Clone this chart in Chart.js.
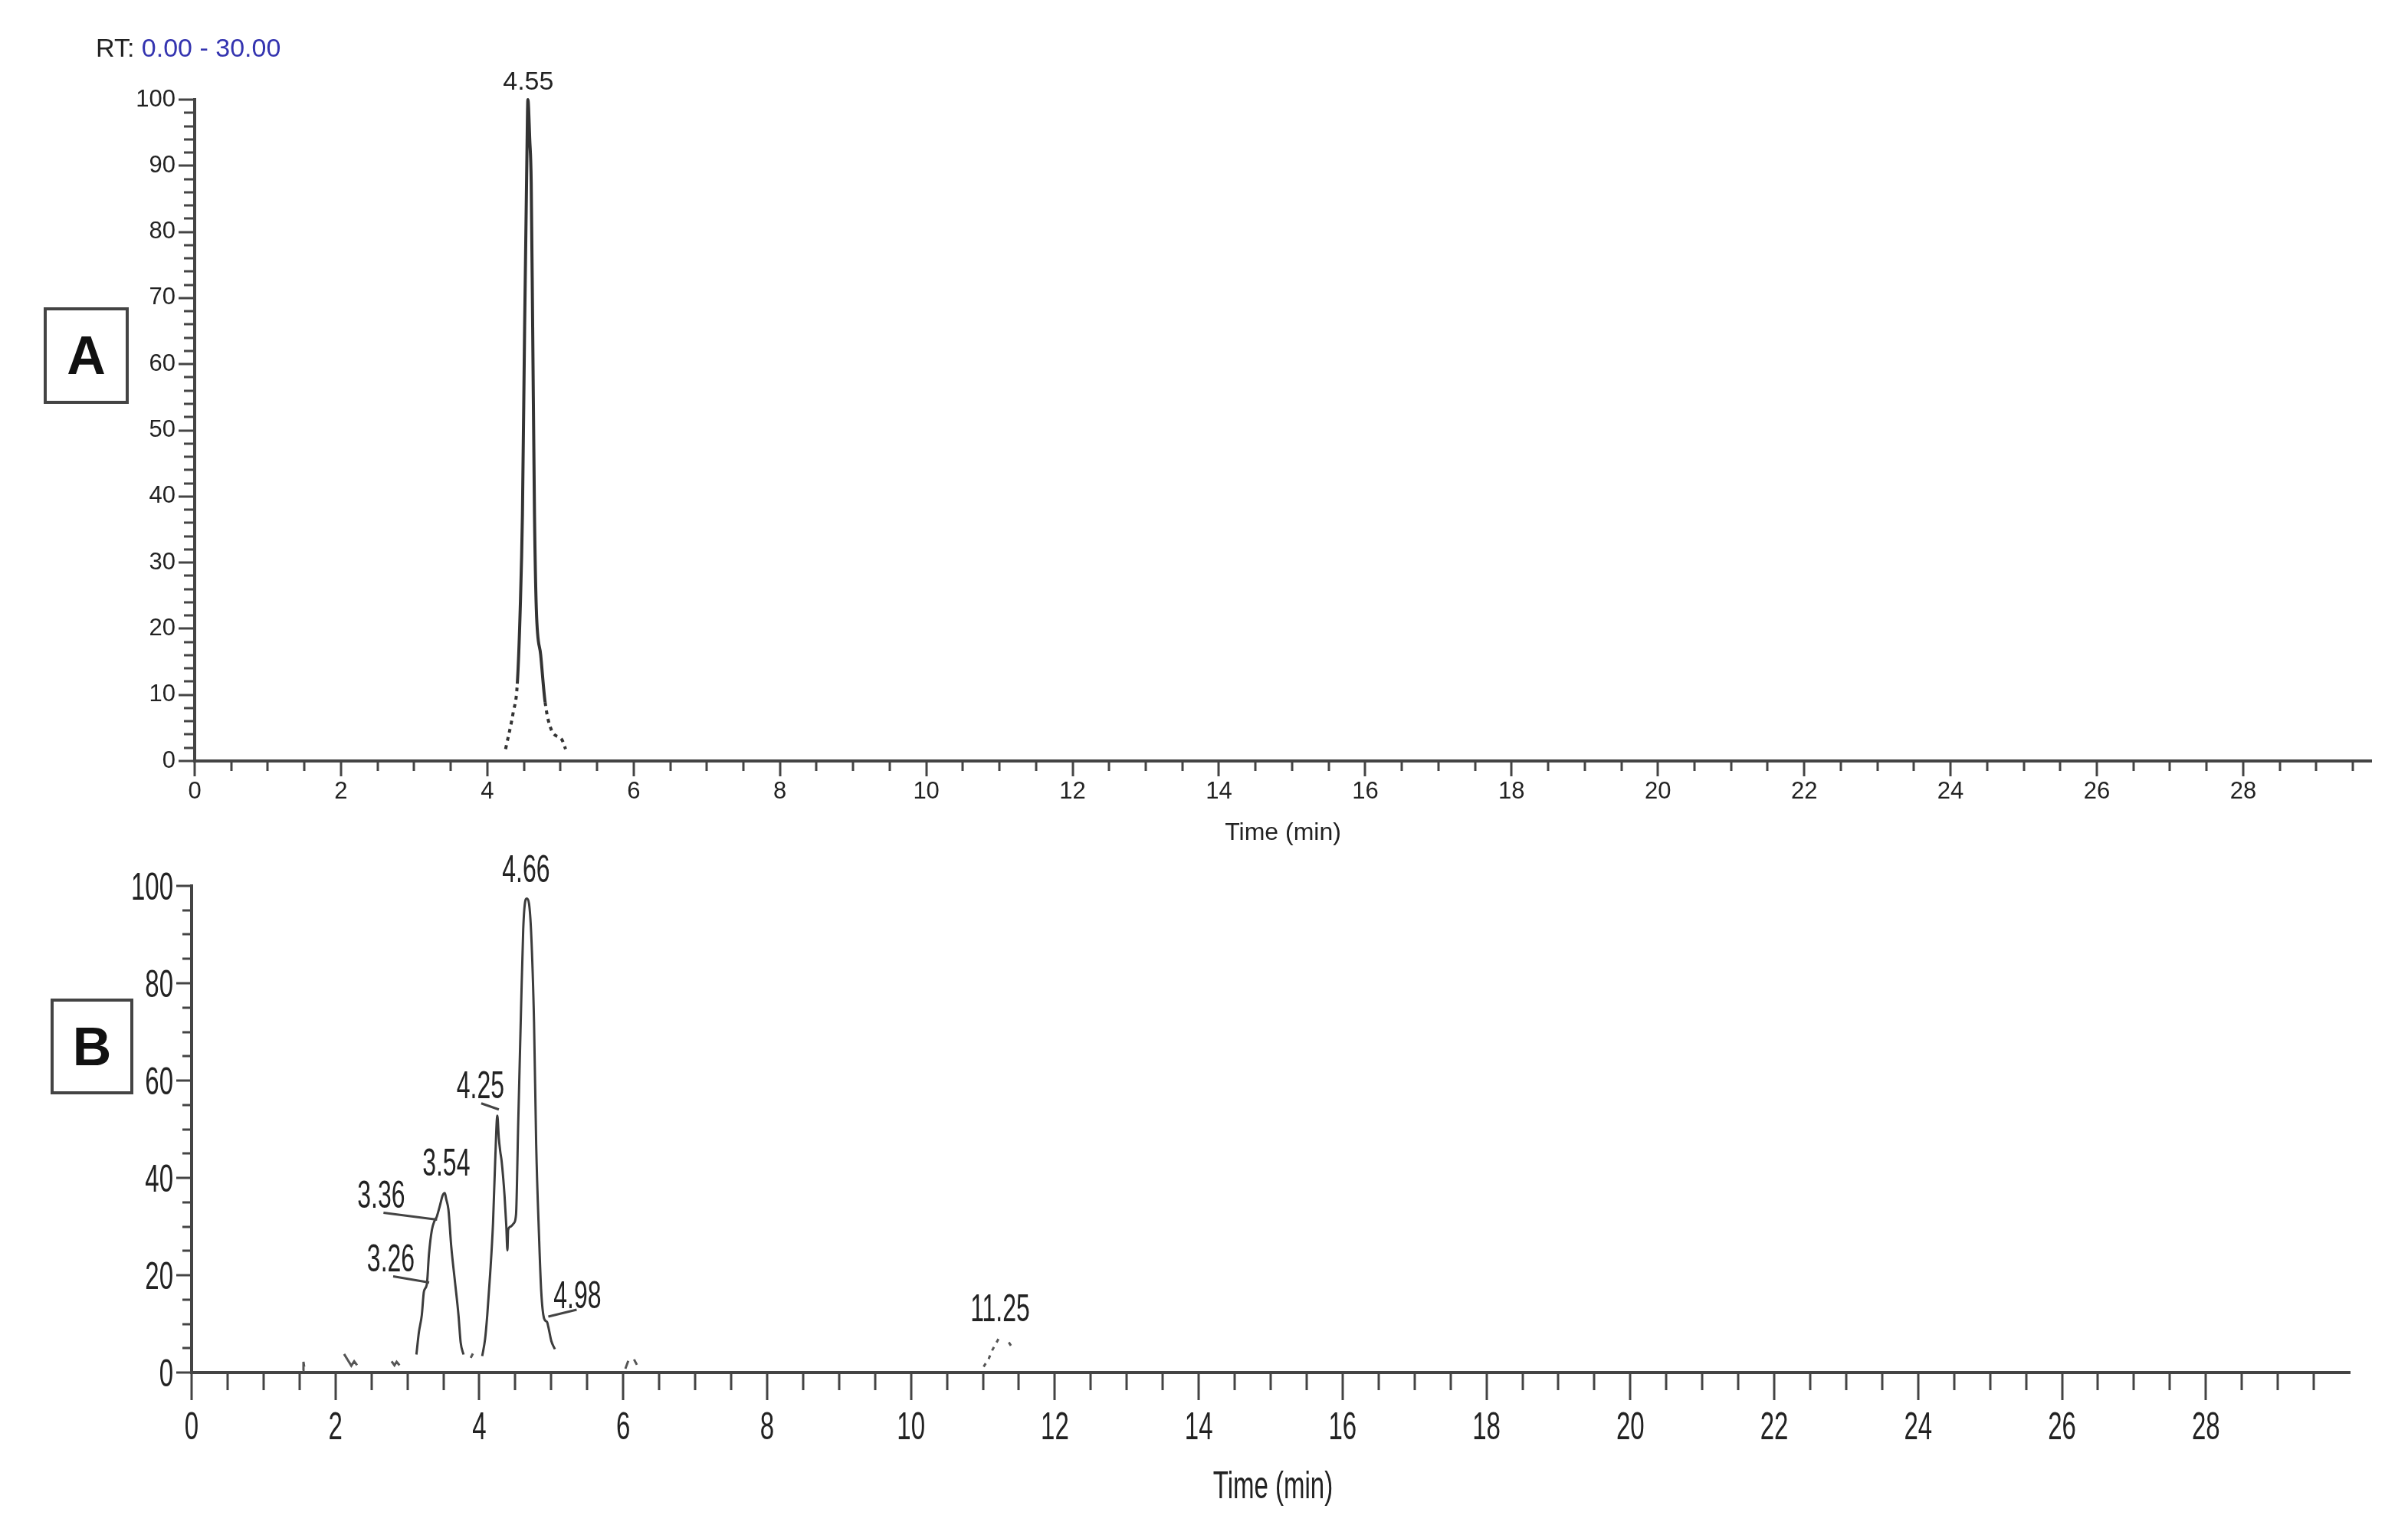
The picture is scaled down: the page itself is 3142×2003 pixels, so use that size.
<!DOCTYPE html>
<html>
<head>
<meta charset="utf-8">
<script src="https://cdn.jsdelivr.net/npm/chart.js@4.4.1/dist/chart.umd.min.js"></script>
<style>
  html,body{margin:0;padding:0;background:#fff;}
  body{width:3142px;height:2003px;position:relative;overflow:hidden;font-family:"Liberation Sans",Arial,sans-serif;}
  canvas{position:absolute;left:0;}
  #chartA{top:0;}
  #chartB{top:1100px;}
  .rt{position:absolute;left:125px;top:45px;font-size:34px;line-height:34px;color:#222;white-space:nowrap;}
  .rt span{color:#3434b0;}
  .panel{position:absolute;border:4px solid #444;box-sizing:border-box;display:flex;align-items:center;justify-content:center;font-weight:bold;font-size:70px;color:#111;background:#fff;}
</style>
</head>
<body>
<canvas id="chartA" width="3142" height="1120"></canvas>
<canvas id="chartB" width="3142" height="903"></canvas>
<div class="rt">RT: <span>0.00 - 30.00</span></div>
<div class="panel" style="left:57px;top:401px;width:111px;height:126px;">A</div>
<div class="panel" style="left:66px;top:1303px;width:108px;height:125px;">B</div>

<script>
// ---- trace A (relative abundance vs time, min)
const timeA = [4.25, 4.355, 4.41, 4.45, 4.48, 4.51, 4.54, 4.555, 4.58, 4.60, 4.62, 4.645, 4.67, 4.73, 4.79, 4.88, 5.02, 5.07];
const intA  = [1.8, 7.4, 11.7, 23, 37.2, 65.6, 90.4, 100, 94, 87.5, 65.6, 37.2, 23, 16, 8.9, 4.6, 3.2, 1.8];

// ---- trace B, first cluster (3.1 - 3.8 min)
const timeB1 = [3.125, 3.16, 3.20, 3.23, 3.27, 3.30, 3.34, 3.375, 3.41, 3.45, 3.49, 3.52, 3.54, 3.57, 3.61, 3.66, 3.71, 3.74, 3.78];
const intB1  = [3.7, 8.3, 11.8, 16.7, 18.1, 24.4, 29.3, 31.1, 32.1, 34.2, 36.4, 36.9, 35.6, 33.5, 25.8, 18.8, 11.8, 6.2, 3.7];

// ---- trace B, second cluster (4.0 - 5.1 min)
const timeB2 = [4.04, 4.08, 4.11, 4.15, 4.19, 4.22, 4.25, 4.27, 4.29, 4.31, 4.35, 4.375, 4.39, 4.40, 4.435, 4.48, 4.51,
                4.54, 4.58, 4.61, 4.64, 4.66, 4.69, 4.72, 4.76, 4.79, 4.83, 4.86, 4.90, 4.94, 4.96, 5.0, 5.05];
const intB2  = [3.4, 6.9, 11.8, 20.2, 30.7, 43.4, 52.8, 48.3, 45.5, 43.4, 36.4, 30, 25.1, 29.3, 30, 30.7, 32.5,
                51.1, 74.9, 91.1, 97, 97.4, 96.4, 90.4, 72.1, 46.9, 27.9, 16.7, 11.1, 10.4, 9.3, 6.5, 4.8];

// ---- baseline specks in B (null = gap)
const timeNoise = [1.545, 1.555, 1.565, 1.8, 2.12, 2.17, 2.22, 2.26, 2.30, 2.5, 2.78, 2.82, 2.85, 2.89, 3.0, 3.88, 3.91, 5.5, 6.03, 6.07, 6.11, 6.15, 6.19];
const intNoise  = [0.4, 2.2, 1.2, null, 3.8, 2.6, 1.4, 2.3, 1.5, null, 2.3, 1.5, 2.2, 1.5, null, 3.0, 3.9, null, 0.8, 2.4, null, 2.7, 1.6];

// ---- small bump at 11.25
const timeBump = [11.01, 11.08, 11.13, 11.22, 11.3, 11.36, 11.40];
const intBump  = [1.2, 2.8, 4.6, 7.0, null, 6.2, 5.3];

// ---- peak labels
const peakTimeA = [4.55];
const peakIntA  = [100];
const peakTimeB = [3.26, 3.36, 3.54, 4.25, 4.66, 4.98, 11.25];
const peakIntB  = [18.5, 31.4, 37.0, 52.8, 97.4, 11.5, 7.0];

const xy = (ts, vs) => ts.map((t, i) => ({ x: t, y: vs[i] }));

// condensed text: normal font squeezed horizontally
function squeezeText(ctx, txt, x, y, sx){
  ctx.save();
  ctx.translate(x, y);
  ctx.scale(sx, 1);
  ctx.fillText(txt, 0, 0);
  ctx.restore();
}

/* ---------- ticks, labels, peak labels ---------- */
const chromPlugin = {
  id: "chrom",
  afterDraw(chart, args, o){
    const { ctx } = chart;
    const xs = chart.scales.x, ys = chart.scales.y;
    ctx.save();
    ctx.strokeStyle = o.tickColor; ctx.lineWidth = o.tickWidth;
    ctx.beginPath();
    const nx = Math.round(o.xLast / o.xMinor);
    for(let k = 0; k <= nx; k++){
      const t = k * o.xMinor;
      const px = Math.round(xs.getPixelForValue(t));
      const major = Math.abs(t / o.xMajor - Math.round(t / o.xMajor)) < 1e-6;
      ctx.moveTo(px, ys.bottom); ctx.lineTo(px, ys.bottom + (major ? o.xMajorLen : o.xMinorLen));
    }
    const ny = Math.round(100 / o.yMinor);
    for(let k = 0; k <= ny; k++){
      const v = k * o.yMinor;
      const py = Math.round(ys.getPixelForValue(v));
      const major = Math.abs(v / o.yMajor - Math.round(v / o.yMajor)) < 1e-6;
      ctx.moveTo(xs.left, py); ctx.lineTo(xs.left - (major ? o.yMajorLen : o.yMinorLen), py);
    }
    ctx.stroke();

    // condensed axis labels (panel B), taken from the scales' own ticks
    const L = o.labels;
    if(L){
      ctx.fillStyle = L.color; ctx.font = L.font; ctx.textBaseline = "alphabetic";
      ctx.textAlign = "center";
      xs.ticks.forEach(tk => {
        if(tk.value > o.xLast) return;
        squeezeText(ctx, String(tk.value), xs.getPixelForValue(tk.value), ys.bottom + L.xBase, L.scaleX);
      });
      ctx.textAlign = "right";
      ys.ticks.forEach(tk => {
        const py = ys.getPixelForValue(tk.value);
        ctx.save(); ctx.translate(xs.left - L.yGap, py + L.yShift); ctx.scale(L.scaleX, 1);
        ctx.fillText(String(tk.value), 0, 0); ctx.restore();
      });
      ctx.textAlign = "center";
      squeezeText(ctx, L.title, (xs.left + xs.right) / 2 + L.titleDx, ys.bottom + L.titleBase, L.scaleX);
    }

    // peak labels with leader lines
    const c = o.callouts;
    ctx.fillStyle = c.color; ctx.strokeStyle = c.lineColor; ctx.lineWidth = c.lineWidth;
    ctx.font = c.font; ctx.textAlign = "center"; ctx.textBaseline = "alphabetic";
    c.times.forEach((t, i) => {
      const px = xs.getPixelForValue(t), py = ys.getPixelForValue(c.values[i]);
      const s = c.style[i] || {};
      if(s.lead){
        ctx.beginPath();
        ctx.moveTo(px + s.lead[0], py + s.lead[1]);
        ctx.lineTo(px + s.lead[2], py + s.lead[3]);
        ctx.stroke();
      }
      squeezeText(ctx, t.toFixed(2), px + (s.dx || 0), py + (s.dy || 0), c.scaleX);
    });
    ctx.restore();
  }
};

function makeChromChart(el, cfg){
  const ownLabels = !!cfg.marks.labels;
  return new Chart(el, {
    type: "line",
    data: { datasets: cfg.datasets },
    options: {
      responsive: false, animation: false, events: [],
      layout: { padding: cfg.padding },
      plugins: { legend: { display: false }, tooltip: { enabled: false }, chrom: cfg.marks },
      elements: { point: { radius: 0 } },
      scales: {
        x: {
          type: "linear", min: 0, max: cfg.xMax,
          grid: { display: false, drawTicks: false },
          border: { display: true, color: "#444", width: 4 },
          ticks: { display: !ownLabels, stepSize: 2, includeBounds: false, autoSkip: false, maxRotation: 0,
                   padding: cfg.xPad, color: "#222", font: cfg.tickFont },
          title: { display: !ownLabels, text: "Time (min)", color: "#222", font: cfg.titleFont,
                   padding: { top: 0, bottom: cfg.titlePad } },
          afterFit: s => { s.height = cfg.xHeight; }
        },
        y: {
          min: 0, max: 100,
          grid: { display: false, drawTicks: false },
          border: { display: true, color: "#444", width: 4 },
          ticks: { display: !ownLabels, stepSize: cfg.yStep, padding: cfg.yPad, color: "#222", font: cfg.tickFont },
          afterFit: s => { s.width = cfg.yWidth; }
        }
      }
    },
    plugins: [chromPlugin]
  });
}

const lowDash = (lim) => ({ borderDash: c => (c.p0.parsed.y < lim && c.p1.parsed.y < lim) ? [5, 6] : undefined });

makeChromChart(document.getElementById("chartA"), {
  datasets: [
    { data: xy(timeA, intA), borderColor: "#333", borderWidth: 4, cubicInterpolationMode: "monotone", clip: false, segment: lowDash(12) }
  ],
  padding: { top: 130, right: 48, left: 0, bottom: 0 },
  xMax: 29.75, xHeight: 127, yWidth: 254, yStep: 10,
  xPad: 22, yPad: 25, titlePad: 14,
  tickFont: { family: "'Liberation Sans', Arial, sans-serif", size: 31 },
  titleFont: { family: "'Liberation Sans', Arial, sans-serif", size: 32 },
  marks: {
    tickColor: "#444", tickWidth: 3,
    xMinor: 0.5, xMajor: 2, xLast: 29.5, xMajorLen: 20, xMinorLen: 13,
    yMinor: 2, yMajor: 10, yMajorLen: 21, yMinorLen: 14,
    callouts: {
      times: peakTimeA, values: peakIntA, color: "#222", lineColor: "#444", lineWidth: 3,
      font: "34px 'Liberation Sans', Arial, sans-serif", scaleX: 1,
      style: [{ dx: 1, dy: -13 }]
    }
  }
});

makeChromChart(document.getElementById("chartB"), {
  datasets: [
    { data: xy(timeB1, intB1), borderColor: "#3c3c3c", borderWidth: 3, cubicInterpolationMode: "monotone", clip: false },
    { data: xy(timeB2, intB2), borderColor: "#3c3c3c", borderWidth: 3, cubicInterpolationMode: "monotone", clip: false },
    { data: xy(timeNoise, intNoise), borderColor: "#555", borderWidth: 3, spanGaps: false, clip: false },
    { data: xy(timeBump, intBump), borderColor: "#555", borderWidth: 3, borderDash: [5, 7], spanGaps: false, clip: false }
  ],
  padding: { top: 56, right: 76, left: 0, bottom: 0 },
  xMax: 30, xHeight: 212, yWidth: 250, yStep: 20,
  xPad: 40, yPad: 24, titlePad: 34,
  marks: {
    tickColor: "#444", tickWidth: 3,
    xMinor: 0.5, xMajor: 2, xLast: 29.5, xMajorLen: 36, xMinorLen: 23,
    yMinor: 5, yMajor: 20, yMajorLen: 20, yMinorLen: 12,
    labels: {
      color: "#222", font: "50px 'Liberation Sans', Arial, sans-serif", scaleX: 0.66,
      xBase: 87, yGap: 24, yShift: 18, title: "Time (min)", titleDx: 3, titleBase: 164
    },
    callouts: {
      times: peakTimeB, values: peakIntB, color: "#222", lineColor: "#444", lineWidth: 3,
      font: "50px 'Liberation Sans', Arial, sans-serif", scaleX: 0.64,
      style: [
        { dx: -46, dy: -15, lead: [4, 0, -43, -8] },
        { dx: -68, dy: -16, lead: [5, 0, -65, -9] },
        { dx: 0, dy: -22 },
        { dx: -22, dy: -23, lead: [2, -8, -21, -16] },
        { dx: -1, dy: -22 },
        { dx: 36, dy: -11, lead: [-2, 0, 35, -9] },
        { dx: -1, dy: -23 }
      ]
    }
  }
});
</script>
</body>
</html>
